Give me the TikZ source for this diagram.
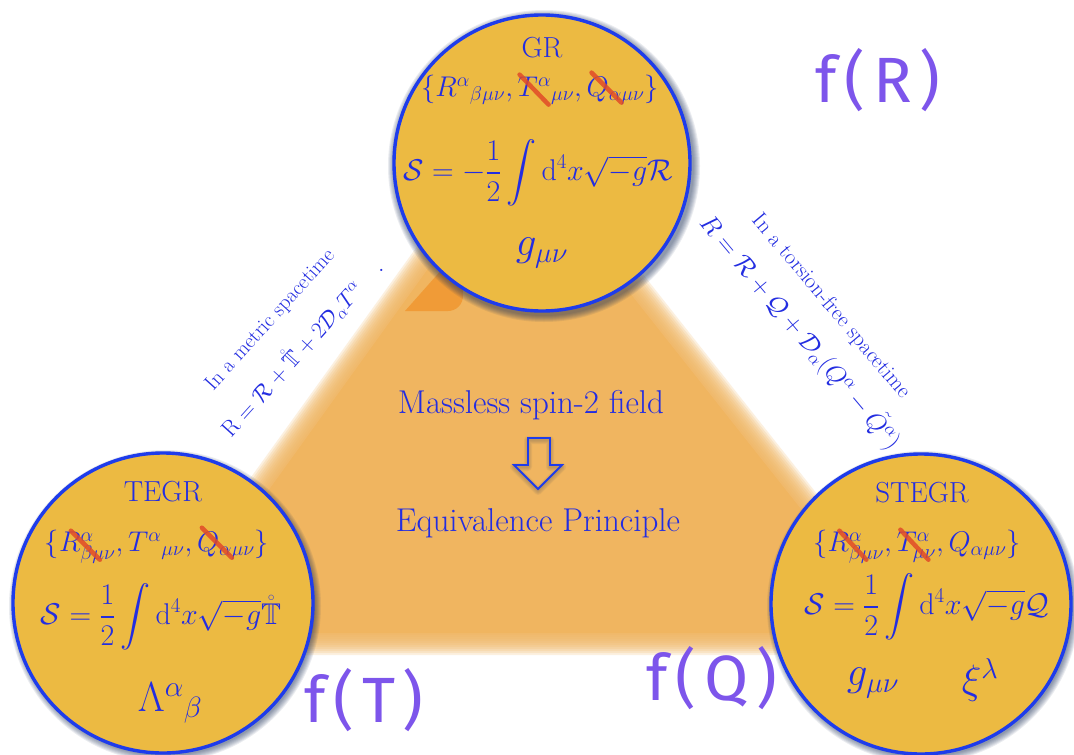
\RequirePackage{fix-cm}
\documentclass[tikz,border=0pt]{standalone}
\usepackage{amsmath,amssymb}
\usepackage{fontspec}
\usetikzlibrary{calc}
\newfontfamily\handfont[LetterSpace=12]{Fira Sans}
\definecolor{circfill}{RGB}{236,186,66}
\definecolor{circline}{RGB}{30,60,235}
\definecolor{txtblue}{RGB}{35,45,225}
\definecolor{trifill}{RGB}{240,181,96}
\definecolor{tipfill}{RGB}{240,155,55}
\definecolor{strikecol}{RGB}{225,75,40}
\definecolor{handcol}{RGB}{125,85,235}
\definecolor{shadowcol}{RGB}{30,50,90}
\newcommand\sz[1]{\fontsize{#1}{#1}\selectfont}
\newlength\tmpa \newlength\tmpb
\newlength\grT \newlength\grQ \newlength\teR \newlength\teQ \newlength\stR \newlength\stT
\newcommand\setfs{\sz{28.5}}
\newcommand\measure[3]{\settowidth\tmpa{\setfs$#2$}\settowidth\tmpb{\setfs$#3$}\setlength#1{\dimexpr\tmpa-\tmpb\relax}}
\begin{document}
\begin{tikzpicture}[x=1pt,y=-1pt,
  bigcirc/.style={circle, minimum size=300pt, inner sep=0pt, fill=circfill, draw=circline, line width=3.4pt},
  txt/.style={text=txtblue, inner sep=0pt, anchor=center},
  strikeln/.style={draw=strikecol, line width=4.5pt, line cap=round, opacity=0.85},
  hand/.style={text=handcol, inner sep=0pt, font=\handfont\sz{64}}]
\measure\grT{\{R^\alpha{}_{\beta\mu\nu}, T}{T}
\measure\grQ{\{R^\alpha{}_{\beta\mu\nu}, T^\alpha{}_{\mu\nu}, Q}{Q}
\measure\teR{\{R}{R}
\measure\teQ{\{R^\alpha_{\beta\mu\nu}, T^\alpha{}_{\mu\nu}, Q}{Q}
\measure\stR{\{R}{R}
\measure\stT{\{R^\alpha_{\beta\mu\nu}, T}{T}
\useasboundingbox (0,0) rectangle (1074,755);
\fill[white] (0,0) rectangle (1074,755);
% blurred triangle
\coordinate (tA) at (515,148);
\coordinate (tB) at (166,633);
\coordinate (tC) at (899,633);
\fill[trifill] (tA) -- (tB) -- (tC) -- cycle;
\foreach \w in {4,8,...,44}
  \draw[trifill, line width=\w pt, opacity=0.2, line join=round] (tA) -- (tB) -- (tC) -- cycle;
% darker tip under GR
\fill[tipfill] (405,311) -- (452,258) -- (463,258) -- (463,296) arc[start angle=0, end angle=90, radius=15] -- cycle;
% circle shadows
\foreach \cx/\cy in {542/163, 163/603, 921/604}
  \foreach \i in {1,...,7}
    \fill[shadowcol, opacity=0.09] (\cx+2,\cy+3) circle[radius=149+\i];
% circles
\node[bigcirc, minimum size=296pt] (GR) at (542,163) {};
\node[bigcirc] (TEGR) at (163,603) {};
\node[bigcirc] (STEGR) at (921,604) {};
% GR contents
\node[txt, font=\sz{29}] (grT) at (542,48) {GR};
\node[txt, font=\setfs] (grS) at (540,90) {$\{R^\alpha{}_{\beta\mu\nu}, T^\alpha{}_{\mu\nu}, Q_{\alpha\mu\nu}\}$};
\node[txt, font=\sz{30}] (grA) at (538,173) {$\displaystyle \mathcal{S} = -\frac{1}{2}\int \mathrm{d}^4x\sqrt{-g}\mathcal{R}$};
\node[txt, font=\sz{41}] (grF) at (542,253) {$g_{\mu\nu}$};
\draw[strikeln] ([xshift={\grT+2pt}, yshift=22pt]grS.base west) -- ([xshift={\grT+31pt}, yshift=-8pt]grS.base west);
\draw[strikeln] ([xshift={\grQ+5pt}, yshift=24pt]grS.base west) -- ([xshift={\grQ+35pt}, yshift=-6pt]grS.base west);
% TEGR contents
\node[txt, font=\sz{29}] (teT) at (163,492) {TEGR};
\node[txt, font=\setfs] (teS) at (157,547) {$\{R^\alpha_{\beta\mu\nu}, T^\alpha{}_{\mu\nu}, Q_{\alpha\mu\nu}\}$};
\node[txt, font=\sz{30}] (teA) at (161,617) {$\displaystyle \mathcal{S} = \frac{1}{2}\int \mathrm{d}^4x\sqrt{-g}\mathring{\mathbb{T}}$};
\node[txt, font=\sz{42}] (teF) at (170,703) {$\Lambda^\alpha{}_\beta$};
\draw[strikeln] ([xshift={\teR+12pt}, yshift=21pt]teS.base west) -- ([xshift={\teR+41pt}, yshift=-8pt]teS.base west);
\draw[strikeln] ([xshift={\teQ+5pt}, yshift=24pt]teS.base west) -- ([xshift={\teQ+35pt}, yshift=-6pt]teS.base west);
% STEGR contents
\node[txt, font=\sz{29}] (stT) at (922,493) {STEGR};
\node[txt, font=\setfs] (stS) at (917,547) {$\{R^\alpha_{\beta\mu\nu}, T^\alpha_{\mu\nu}, Q_{\alpha\mu\nu}\}$};
\node[txt, font=\sz{30}] (stA) at (927,607) {$\displaystyle \mathcal{S} = \frac{1}{2}\int \mathrm{d}^4x\sqrt{-g}\mathcal{Q}$};
\node[txt, font=\sz{41}] (stF) at (873,683) {$g_{\mu\nu}$};
\node[txt, font=\sz{41}] (stX) at (980,680) {$\xi^\lambda$};
\draw[strikeln] ([xshift={\stR+12pt}, yshift=21pt]stS.base west) -- ([xshift={\stR+39pt}, yshift=-8pt]stS.base west);
\draw[strikeln] ([xshift={\stT+4pt}, yshift=22pt]stS.base west) -- ([xshift={\stT+32pt}, yshift=-8pt]stS.base west);
% side labels
\node[txt, rotate=48, align=center, font=\sz{23}] (lm) at (287,335)
  {{\sz{21}In a metric spacetime}\\[18pt] $\mathrm{R} = \mathcal{R} + \mathring{\mathbb{T}} + 2\mathcal{D}_\alpha T^\alpha \quad .$};
\node[txt, rotate=-50, align=center, font=\sz{25.5}] (rt) at (814,321)
  {{\sz{22}In a torsion-free spacetime}\\[14pt] $R = \mathcal{R} + \mathcal{Q} + \mathcal{D}_\alpha(Q^\alpha - \tilde{Q}^\alpha)$};
% centre
\node[txt, font=\sz{33}] (msf) at (531,405) {Massless spin-2 field};
\node[txt, font=\sz{33}] (ep) at (538,523) {Equivalence Principle};
\foreach \i in {1,...,4}
  \draw[shadowcol, opacity=0.06, line width=2*\i pt, line join=round] (528,440) -- (550,440) -- (550,467) -- (562,467) -- (538,491) -- (514,467) -- (528,467) -- cycle;
\draw[circline, line width=1.8pt, line join=miter] (528,438) -- (550,438) -- (550,465) -- (562,465) -- (538,489) -- (514,465) -- (528,465) -- cycle;
% handwritten
\node[hand] (fR) at (878,80) {f(R)};
\node[hand] (fT) at (364,700) {f(T)};
\node[hand] (fQ) at (712,678) {f(Q)};
\end{tikzpicture}
\end{document}
